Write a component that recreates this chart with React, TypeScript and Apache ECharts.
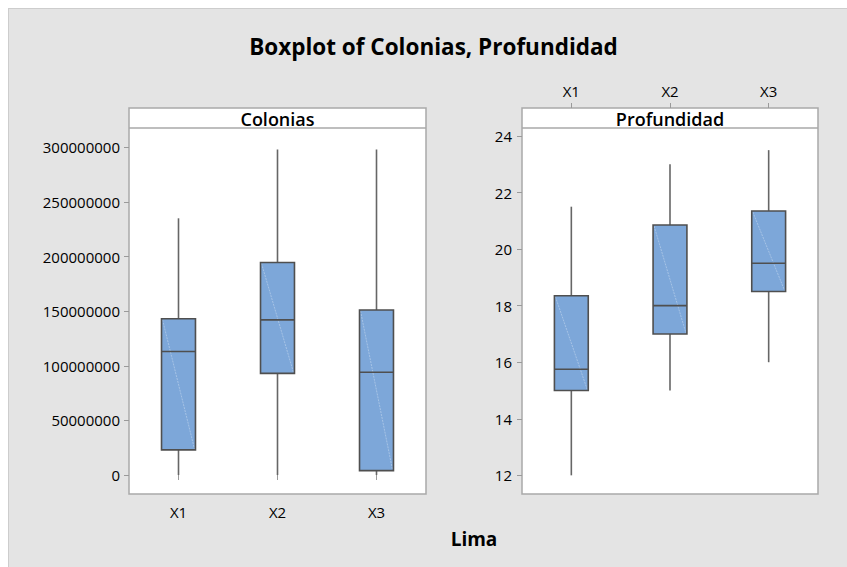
import React, { useEffect, useRef } from "react";
import * as echarts from "echarts";

const categories = ["X1", "X2", "X3"];

// Colonias five-number summaries
const coloniasMin = [0, 0, 0];
const coloniasQ1 = [23000000, 93000000, 4000000];
const coloniasMedian = [113000000, 142000000, 94000000];
const coloniasQ3 = [143000000, 194500000, 151000000];
const coloniasMax = [235000000, 298000000, 298000000];
const coloniasTicks = [0, 50000000, 100000000, 150000000, 200000000, 250000000, 300000000];

// Profundidad five-number summaries
const profMin = [12, 15, 16];
const profQ1 = [15, 17, 18.5];
const profMedian = [15.75, 18, 19.5];
const profQ3 = [18.35, 20.85, 21.35];
const profMax = [21.5, 23, 23.5];
const profTicks = [12, 14, 16, 18, 20, 22, 24];

const FONT = "'Open Sans', 'Noto Sans', sans-serif";
const BOX_FILL = "#7da7d9";
const BOX_STROKE = "#4f4f4f";
const WHISKER = "#666666";
const FRAME = "#a9a9a9";
const TICK = "#9a9a9a";
const TEXT = "#000000";

function buildData(mn: number[], q1: number[], md: number[], q3: number[], mx: number[]) {
  return categories.map((_, i) => [i, mn[i], q1[i], md[i], q3[i], mx[i]]);
}

const renderBox = (params: any, api: any) => {
  const idx = api.value(0);
  const lo = api.coord([idx, api.value(1)]);
  const b1 = api.coord([idx, api.value(2)]);
  const med = api.coord([idx, api.value(3)]);
  const b3 = api.coord([idx, api.value(4)]);
  const hi = api.coord([idx, api.value(5)]);
  const cx = lo[0];
  const bw = api.size([1, 0])[0] * 0.343;
  const x0 = cx - bw / 2;
  const x1 = cx + bw / 2;
  return {
    type: "group",
    children: [
      { type: "line", shape: { x1: cx, y1: lo[1], x2: cx, y2: b1[1] }, style: { stroke: WHISKER, lineWidth: 1.6 } },
      { type: "line", shape: { x1: cx, y1: b3[1], x2: cx, y2: hi[1] }, style: { stroke: WHISKER, lineWidth: 1.6 } },
      { type: "rect", shape: { x: x0, y: b3[1], width: bw, height: b1[1] - b3[1] }, style: { fill: BOX_FILL, stroke: "none" } },
      { type: "line", shape: { x1: x0 + 1, y1: b3[1] + 1, x2: x1 - 1, y2: b1[1] - 1 }, style: { stroke: "rgba(255,255,255,0.45)", lineWidth: 0.7, lineDash: [2, 1] } },
      { type: "rect", shape: { x: x0, y: b3[1], width: bw, height: b1[1] - b3[1] }, style: { fill: "none", stroke: BOX_STROKE, lineWidth: 1.6 } },
      { type: "line", shape: { x1: x0, y1: med[1], x2: x1, y2: med[1] }, style: { stroke: BOX_STROKE, lineWidth: 1.6 } },
    ],
  };
};

export default function App() {
  const ref = useRef<HTMLDivElement>(null);
  useEffect(() => {
    if (!ref.current) return;
    const chart = echarts.init(ref.current, null, { renderer: "svg" });
    const labelStyle = { color: TEXT, fontSize: 15, fontFamily: FONT };
    chart.setOption({
      animation: false,
      backgroundColor: "#e4e4e4",
      textStyle: { fontFamily: FONT },
      grid: [
        { left: 121, top: 100, width: 297, height: 386, show: true, backgroundColor: "#ffffff", borderColor: FRAME, borderWidth: 1.5 },
        { left: 514, top: 100, width: 296, height: 386, show: true, backgroundColor: "#ffffff", borderColor: FRAME, borderWidth: 1.5 },
      ],
      xAxis: [
        {
          type: "category", gridIndex: 0, data: categories, position: "bottom",
          axisLine: { show: false },
          axisTick: { show: true, alignWithLabel: true, length: 5, lineStyle: { color: TICK } },
          axisLabel: { ...labelStyle, margin: 10 },
        },
        {
          type: "category", gridIndex: 1, data: categories, position: "top",
          axisLine: { show: false },
          axisTick: { show: true, alignWithLabel: true, length: 5, lineStyle: { color: TICK } },
          axisLabel: { ...labelStyle, margin: 10 },
        },
      ],
      yAxis: [
        {
          type: "value", gridIndex: 0, min: -17390000, max: 335980000,
          axisLine: { show: false }, splitLine: { show: false },
          axisTick: { show: true, length: 5, lineStyle: { color: TICK }, customValues: coloniasTicks },
          axisLabel: { ...labelStyle, margin: 9, customValues: coloniasTicks, formatter: (v: number) => String(v) },
        },
        {
          type: "value", gridIndex: 1, min: 11.34, max: 24.99,
          axisLine: { show: false }, splitLine: { show: false },
          axisTick: { show: true, length: 5, lineStyle: { color: TICK }, customValues: profTicks },
          axisLabel: { ...labelStyle, margin: 10, customValues: profTicks, formatter: (v: number) => String(v) },
        },
      ],
      series: [
        {
          type: "custom", name: "Colonias", xAxisIndex: 0, yAxisIndex: 0,
          data: buildData(coloniasMin, coloniasQ1, coloniasMedian, coloniasQ3, coloniasMax),
          encode: { x: 0, y: [1, 2, 3, 4, 5] },
          renderItem: renderBox,
        },
        {
          type: "custom", name: "Profundidad", xAxisIndex: 1, yAxisIndex: 1,
          data: buildData(profMin, profQ1, profMedian, profQ3, profMax),
          encode: { x: 0, y: [1, 2, 3, 4, 5] },
          renderItem: renderBox,
        },
      ],
      graphic: [
        { type: "line", shape: { x1: 0.5, y1: 0, x2: 0.5, y2: 559 }, style: { stroke: "#cdcdcd", lineWidth: 1 } },
        { type: "line", shape: { x1: 0, y1: 0.5, x2: 839, y2: 0.5 }, style: { stroke: "#cdcdcd", lineWidth: 1 } },
        { type: "text", x: 425.5, y: 38, style: { text: "Boxplot of Colonias, Profundidad", fill: TEXT, font: `bold 22.5px ${FONT}`, textAlign: "center", textVerticalAlign: "middle" } },
        { type: "text", x: 466, y: 531, style: { text: "Lima", fill: TEXT, font: `bold 19px ${FONT}`, textAlign: "center", textVerticalAlign: "middle" } },
        { type: "line", z: 10, shape: { x1: 121, y1: 120, x2: 418, y2: 120 }, style: { stroke: FRAME, lineWidth: 1.5 } },
        { type: "text", z: 10, x: 269.5, y: 110.5, style: { text: "Colonias", fill: TEXT, font: `600 18px ${FONT}`, textAlign: "center", textVerticalAlign: "middle" } },
        { type: "line", z: 10, shape: { x1: 514, y1: 120, x2: 810, y2: 120 }, style: { stroke: FRAME, lineWidth: 1.5 } },
        { type: "text", z: 10, x: 662, y: 110.5, style: { text: "Profundidad", fill: TEXT, font: `600 18px ${FONT}`, textAlign: "center", textVerticalAlign: "middle" } },
      ],
    });
    return () => chart.dispose();
  }, []);
  return <div ref={ref} style={{ position: "fixed", left: 8, top: 8, width: 839, height: 559 }} />;
}
